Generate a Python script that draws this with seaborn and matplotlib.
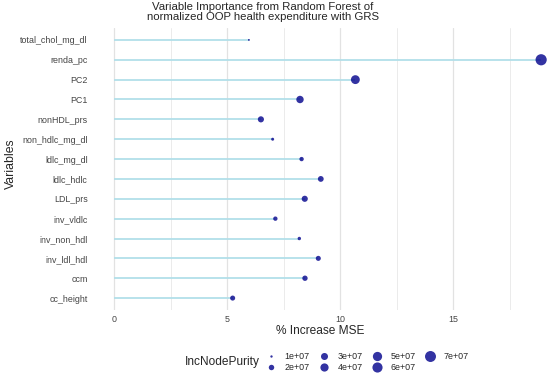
import numpy as np
import pandas as pd
from matplotlib import pyplot as plt
from matplotlib.lines import Line2D
import seaborn as sns

variables = ['total_chol_mg_dl', 'renda_pc', 'PC2', 'PC1', 'nonHDL_prs',
             'non_hdlc_mg_dl', 'ldlc_mg_dl', 'ldlc_hdlc', 'LDL_prs',
             'inv_vldlc', 'inv_non_hdl', 'inv_ldl_hdl', 'ccm', 'cc_height']
inc_mse = [5.97, 18.9, 10.68, 8.23, 6.5, 7.02, 8.3, 9.15, 8.44,
           7.14, 8.2, 9.04, 8.45, 5.25]
inc_node_purity = [0.96e7, 7.3e7, 4.6e7, 3.3e7, 2.4e7, 1.1e7, 1.5e7, 2.2e7,
                   2.4e7, 1.5e7, 1.2e7, 1.8e7, 1.95e7, 1.8e7]
legend_values = [1e7, 2e7, 3e7, 4e7, 5e7, 6e7, 7e7]
legend_labels = ['1e+07', '2e+07', '3e+07', '4e+07', '5e+07', '6e+07', '7e+07']

df = pd.DataFrame({'var': variables, 'mse': inc_mse, 'purity': inc_node_purity})

sns.set_theme(style='white')
plt.rcParams['font.family'] = ['Liberation Sans', 'DejaVu Sans']

vmin, vmax = 0.95e7, 7.3e7
def diam_pt(v):
    # ggplot-like area scale, diameter in points
    frac = np.clip((np.asarray(v, float) - vmin) / (vmax - vmin), 0, 1)
    return (1.5 + 9.7 * np.sqrt(frac)) * 0.72

dot_color = 'darkblue'

fig = plt.figure(figsize=(5.5, 3.74), dpi=100)
ax = fig.add_axes([91/550, 1 - 310/374, (550 - 91)/550, (310 - 28)/374])

# grid
for gx in [0, 5, 10, 15]:
    ax.axvline(gx, color='#e2e2e2', lw=0.9, zorder=0)
for gx in [2.5, 7.5, 12.5, 17.5]:
    ax.axvline(gx, color='#ebebeb', lw=0.7, zorder=0)

ax.hlines(y=df['var'], xmin=0, xmax=df['mse'], color='#b2dfe9', lw=1.3, zorder=1)
sizes = {v: float(diam_pt(v)) ** 2 for v in df['purity']}
sns.scatterplot(data=df, x='mse', y='var', size='purity', sizes=sizes,
                color=dot_color, alpha=0.8, linewidth=0, legend=False,
                ax=ax, zorder=2)

ax.set_xlim(-(114 - 91)/22.6, (550 - 114)/22.6)
ax.set_ylim(len(variables) - 0.4, -0.6)
ax.set_xticks([0, 5, 10, 15])
ax.set_xticklabels(['0', '5', '10', '15'])
ax.tick_params(axis='both', length=0, labelsize=6.4, labelcolor='#444444', pad=2.5)
ax.tick_params(axis='x', pad=3.5)
for s in ax.spines.values():
    s.set_visible(False)
ax.set_xlabel('% Increase MSE', fontsize=8.6, labelpad=1)
ax.set_ylabel('')
fig.text(11/550, 1 - 164/374, 'Variables', rotation=90, fontsize=8.8,
         ha='center', va='center')

fig.text(263/550, 1 - 2.5/374,
         'Variable Importance from Random Forest of\nnormalized OOP health expenditure with GRS',
         ha='center', va='top', fontsize=8.2, linespacing=1.0)

handles = [Line2D([], [], marker='o', linestyle='', markersize=float(diam_pt(v)),
                  markerfacecolor=dot_color, markeredgewidth=0, alpha=0.8)
           for v in legend_values]
fig.legend(handles, legend_labels, ncol=4, loc='center left',
           bbox_to_anchor=(264/550, 1 - 362/374), frameon=False,
           fontsize=6.4, handlelength=1.5, handletextpad=0.8,
           columnspacing=0.85, labelspacing=0.25, borderpad=0, borderaxespad=0)
fig.text(185/550, 1 - 362/374, 'IncNodePurity', fontsize=8.6, ha='left', va='center')

fig.savefig('out.png', dpi=100)
